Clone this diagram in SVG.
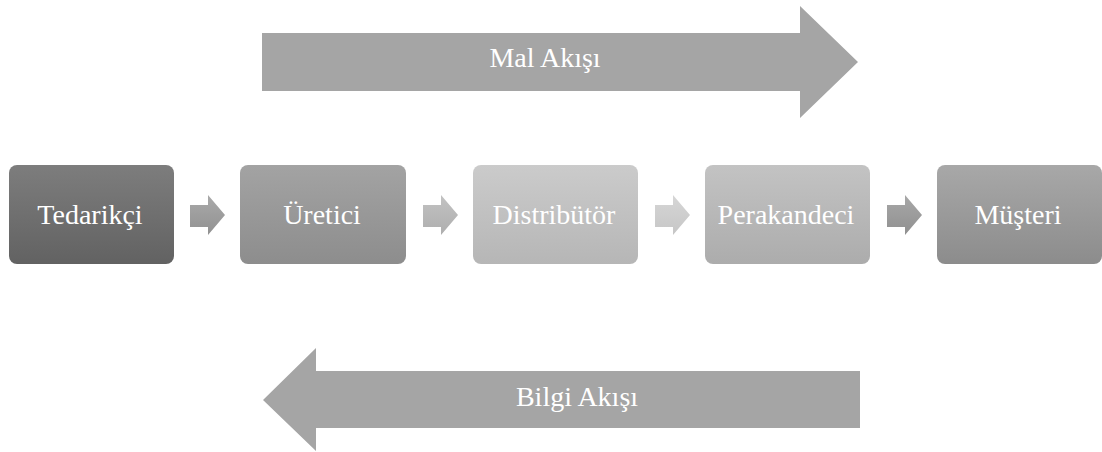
<svg xmlns="http://www.w3.org/2000/svg" width="1102" height="452" viewBox="0 0 1102 452">
<defs>
<linearGradient id="g1" x1="0" y1="0" x2="0" y2="1"><stop offset="0" stop-color="#7d7d7d"/><stop offset="1" stop-color="#626262"/></linearGradient>
<linearGradient id="g2" x1="0" y1="0" x2="0" y2="1"><stop offset="0" stop-color="#a3a3a3"/><stop offset="1" stop-color="#8d8d8d"/></linearGradient>
<linearGradient id="g3" x1="0" y1="0" x2="0" y2="1"><stop offset="0" stop-color="#cbcbcb"/><stop offset="1" stop-color="#b6b6b6"/></linearGradient>
<linearGradient id="g4" x1="0" y1="0" x2="0" y2="1"><stop offset="0" stop-color="#c3c3c3"/><stop offset="1" stop-color="#acacac"/></linearGradient>
<linearGradient id="g5" x1="0" y1="0" x2="0" y2="1"><stop offset="0" stop-color="#a8a8a8"/><stop offset="1" stop-color="#8c8c8c"/></linearGradient>
<linearGradient id="a1" x1="0" y1="0" x2="0" y2="1"><stop offset="0" stop-color="#aaaaaa"/><stop offset="1" stop-color="#919191"/></linearGradient>
<linearGradient id="a2" x1="0" y1="0" x2="0" y2="1"><stop offset="0" stop-color="#c2c2c2"/><stop offset="1" stop-color="#aeaeae"/></linearGradient>
<linearGradient id="a3" x1="0" y1="0" x2="0" y2="1"><stop offset="0" stop-color="#d6d6d6"/><stop offset="1" stop-color="#c6c6c6"/></linearGradient>
<linearGradient id="a4" x1="0" y1="0" x2="0" y2="1"><stop offset="0" stop-color="#a8a8a8"/><stop offset="1" stop-color="#909090"/></linearGradient>
</defs>
<style>
text{font-family:"Liberation Serif","Times New Roman",serif;font-size:28px;fill:#ffffff;text-anchor:middle}
.big{fill:#a5a5a5}
</style>
<g id="mal-akisi">
<polygon class="big" points="262,33 800,33 800,6 858,62 800,118 800,91 262,91"/>
<text x="545" y="67">Mal Akışı</text>
</g>
<g id="bilgi-akisi">
<polygon class="big" points="860,371 316,371 316,348 263,400 316,451 316,428 860,428"/>
<text x="577" y="406">Bilgi Akışı</text>
</g>
<g id="tedarikci">
<rect x="9" y="165" width="165" height="99" rx="8" fill="url(#g1)"/>
<text x="90" y="224">Tedarikçi</text>
</g>
<g id="uretici">
<rect x="240" y="165" width="166" height="99" rx="8" fill="url(#g2)"/>
<text x="322" y="224">Üretici</text>
</g>
<g id="distributor">
<rect x="473" y="165" width="165" height="99" rx="8" fill="url(#g3)"/>
<text x="554" y="224">Distribütör</text>
</g>
<g id="perakandeci">
<rect x="705" y="165" width="165" height="99" rx="8" fill="url(#g4)"/>
<text x="786" y="224">Perakandeci</text>
</g>
<g id="musteri">
<rect x="937" y="165" width="165" height="99" rx="8" fill="url(#g5)"/>
<text x="1018" y="224">Müşteri</text>
</g>
<g id="connectors">
<polygon points="190,205 208,205 208,195 225,215 208,235 208,227 190,227" fill="url(#a1)"/>
<polygon points="423,205 441,205 441,195 458,215 441,235 441,227 423,227" fill="url(#a2)"/>
<polygon points="655,205 673,205 673,195 690,215 673,235 673,227 655,227" fill="url(#a3)"/>
<polygon points="887,205 905,205 905,195 922,215 905,235 905,227 887,227" fill="url(#a4)"/>
</g>
</svg>
